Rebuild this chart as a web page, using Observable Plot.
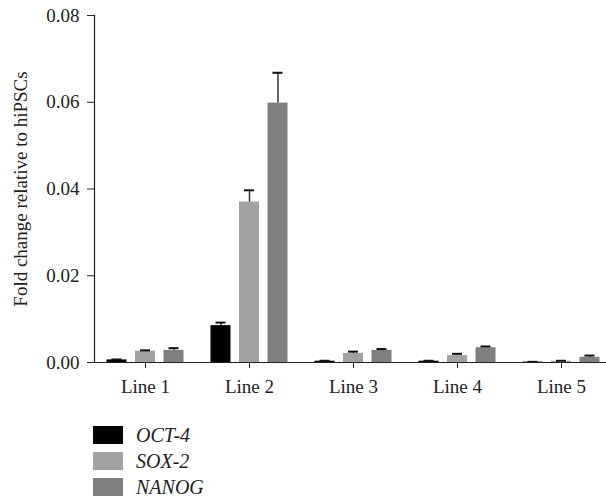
<!DOCTYPE html>
<html>
<head>
<meta charset="utf-8">
<script src="https://cdn.jsdelivr.net/npm/d3@7"></script>
<script src="https://cdn.jsdelivr.net/npm/@observablehq/plot@0.6"></script>
<style>
  body { margin: 0; background: #fff; }
  #legend { padding-left: 93px; margin-top: 22px; font-family: "Liberation Serif", serif; font-style: italic; font-size: 20px; color: #222; }
  .row { display: flex; align-items: center; height: 26px; }
  .sw { width: 30px; height: 18px; margin-right: 13px; }
</style>
</head>
<body>
<div id="chart"></div>
<div id="legend"></div>
<script>
const lines = ["Line 1", "Line 2", "Line 3", "Line 4", "Line 5"];
const genes = ["OCT-4", "SOX-2", "NANOG"];
const oct4 = [0.0006, 0.0085, 0.0003, 0.0003, 0.0001];
const oct4Err = [0.0001, 0.0007, 0.0001, 0.0001, 0.00005];
const sox2 = [0.0026, 0.0370, 0.0021, 0.0016, 0.0003];
const sox2Err = [0.0002, 0.0027, 0.0004, 0.0004, 0.0001];
const nanog = [0.0028, 0.0598, 0.0028, 0.0034, 0.0012];
const nanogErr = [0.0005, 0.0070, 0.0003, 0.0003, 0.0004];
const yTicks = [0, 0.02, 0.04, 0.06, 0.08];
const colors = ["#000000", "#a2a2a4", "#808080"];

const series = [oct4, sox2, nanog];
const errs = [oct4Err, sox2Err, nanogErr];
const offsets = [-28.5, 0, 28.5];

const marks = [];
genes.forEach((g, i) => {
  const data = lines.map((l, j) => ({line: l, gene: g, value: series[i][j], err: errs[i][j]}));
  marks.push(Plot.barY(data, {x: "line", y: "value", fill: colors[i], dx: offsets[i], insetLeft: 42, insetRight: 42}));
  marks.push(Plot.ruleX(data, {x: "line", y1: "value", y2: d => d.value + d.err, dx: offsets[i], stroke: "#333", strokeWidth: 1.5}));
  marks.push(Plot.tickY(data, {x: "line", y: d => d.value + d.err, dx: offsets[i], insetLeft: 47, insetRight: 47, stroke: "#111", strokeWidth: 2}));
});

const plot = Plot.plot({
  width: 606,
  height: 400,
  marginLeft: 94,
  marginRight: 0,
  marginTop: 15,
  marginBottom: 38,
  style: {fontFamily: "Liberation Serif, serif", fontSize: "19px", color: "#222", background: "#fff"},
  x: {type: "band", domain: lines, range: [93, 613], padding: 0},
  y: {domain: [0, 0.08]},
  marks: [
    Plot.axisY(yTicks, {tickFormat: d3.format(".2f"), tickSize: 7, tickPadding: 8, fontSize: 19,
      label: "Fold change relative to hiPSCs", labelAnchor: "center", labelArrow: "none", labelOffset: 81}),
    Plot.axisX(lines, {tickSize: 6, tickPadding: 11, fontSize: 19, label: null}),
    ...marks,
    Plot.frame({anchor: "left", stroke: "#222", strokeWidth: 1.2}),
    Plot.ruleY([0], {stroke: "#222", strokeWidth: 1.2})
  ]
});
document.getElementById("chart").appendChild(plot);

const legend = document.getElementById("legend");
genes.forEach((g, i) => {
  const row = document.createElement("div");
  row.className = "row";
  const sw = document.createElement("div");
  sw.className = "sw";
  sw.style.background = colors[i];
  const t = document.createElement("span");
  t.textContent = g;
  row.appendChild(sw);
  row.appendChild(t);
  legend.appendChild(row);
});
</script>
</body>
</html>
